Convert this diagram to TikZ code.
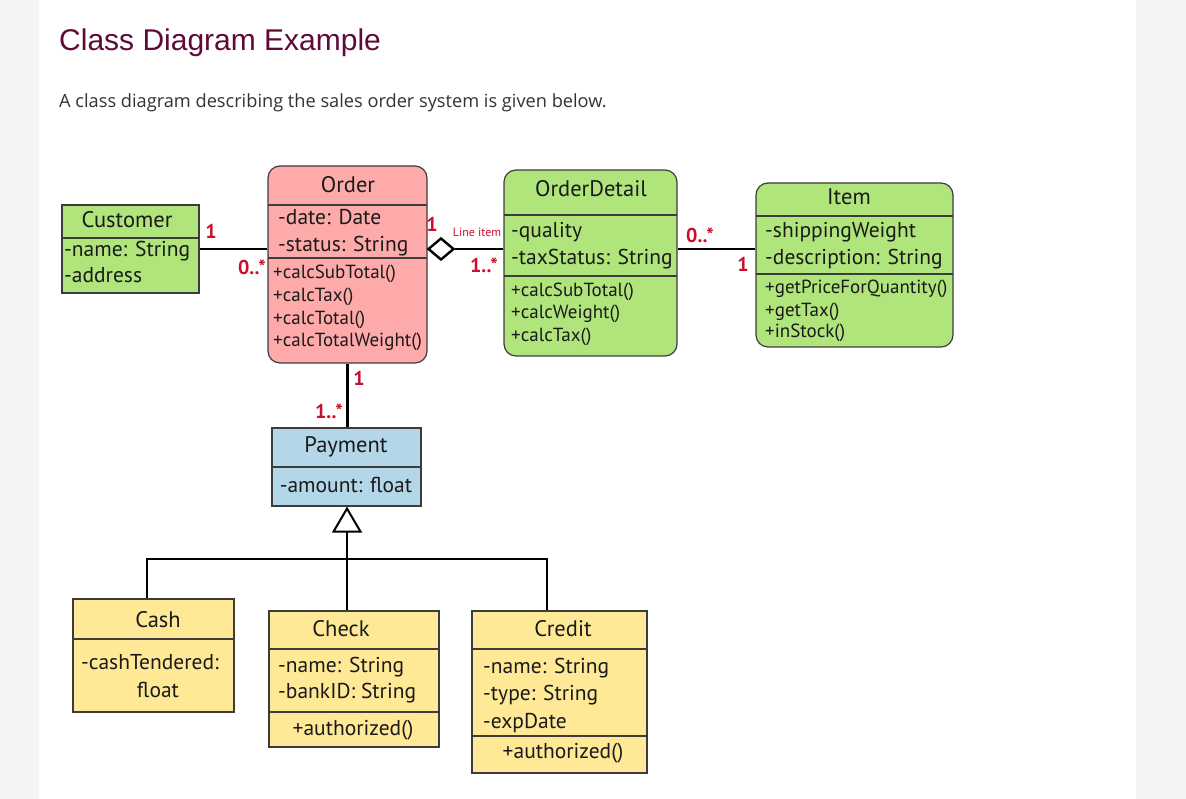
\documentclass[tikz,border=0pt]{standalone}
\usepackage{fontspec}
\usepackage{xcolor}
\usetikzlibrary{positioning, calc, shapes.geometric, arrows.meta}
\setmainfont{PT Sans}
\newfontfamily\headfont{Liberation Sans}
\newfontfamily\leadfont{Open Sans}
\definecolor{pagegray}{HTML}{F4F4F3}
\definecolor{headcol}{HTML}{5E0B3A}
\definecolor{leadcol}{HTML}{333333}
\definecolor{umlgreen}{HTML}{B0E57C}
\definecolor{umlpink}{HTML}{FFAAAA}
\definecolor{umlblue}{HTML}{B3D7E8}
\definecolor{umlyellow}{HTML}{FFE996}
\definecolor{boxline}{HTML}{3C3C3C}
\definecolor{multred}{HTML}{C8102E}
\definecolor{txt}{HTML}{1A1A1A}

\begin{document}
\begin{tikzpicture}[x=1pt, y=-1pt,
    cls/.style={draw=boxline, line width=1.2pt, inner sep=0pt},
    roundcls/.style={cls, rounded corners=12pt},
    sep/.style={draw=boxline, line width=1.2pt},
    link/.style={line width=2.4pt, black},
    ttl/.style={font=\fontsize{22.5}{26}\selectfont, anchor=base, inner sep=0pt, text=txt},
    attr/.style={font=\fontsize{21.5}{26}\selectfont, anchor=base west, inner sep=0pt, text=txt},
    body/.style={attr, anchor=base},
    meth/.style={font=\fontsize{19}{22}\selectfont, anchor=base west, inner sep=0pt, text=txt},
    mult/.style={font=\bfseries\fontsize{20}{24}\selectfont, text=multred, inner sep=0pt}]
    \useasboundingbox (0,0) rectangle (1186,799);
    \fill[pagegray] (0,0) rectangle (1186,799);
    \fill[white] (39,0) rectangle (1136,799);

    % page heading
    \node[anchor=base west, inner sep=0pt, text=headcol, font=\headfont\fontsize{30}{36}\selectfont] (head) at (59,51) {Class Diagram Example};
    \node[anchor=base west, inner sep=0pt, text=leadcol, font=\leadfont\fontsize{18.2}{22}\selectfont] (lead) at (59,108) {A class diagram describing the sales order system is given below.};

    % classes
    \node[cls, fill=umlgreen, minimum width=137pt, minimum height=88pt] (customer) at (130.5,249) {};
    \node[roundcls, fill=umlpink, minimum width=159pt, minimum height=197pt] (order) at (347.5,264.5) {};
    \node[roundcls, fill=umlgreen, minimum width=173pt, minimum height=186pt] (detail) at (590.5,263) {};
    \node[roundcls, fill=umlgreen, minimum width=197pt, minimum height=164pt] (item) at (854.5,265) {};
    \node[cls, fill=umlblue, minimum width=149pt, minimum height=78pt] (payment) at (346.5,467) {};
    \node[cls, fill=umlyellow, minimum width=161pt, minimum height=113pt] (cash) at (153.5,655.5) {};
    \node[cls, fill=umlyellow, minimum width=170pt, minimum height=136pt] (check) at (354,679) {};
    \node[cls, fill=umlyellow, minimum width=175pt, minimum height=162pt] (credit) at (559.5,692) {};

    % compartments
    \draw[sep] (62,238) -- (199,238);
    \draw[sep] (268,205) -- (427,205);
    \draw[sep] (268,258) -- (427,258);
    \draw[sep] (504,215) -- (677,215);
    \draw[sep] (504,276) -- (677,276);
    \draw[sep] (756,216) -- (953,216);
    \draw[sep] (756,274) -- (953,274);
    \draw[sep] (272,467) -- (421,467);
    \draw[sep] (73,639) -- (234,639);
    \draw[sep] (269,649) -- (439,649);
    \draw[sep] (269,712) -- (439,712);
    \draw[sep] (472,649) -- (647,649);
    \draw[sep] (472,736) -- (647,736);

    % Customer
    \node[ttl] (cu-t) at (127,228) {Customer};
    \node[attr] (cu-a1) at (64,257) {-name: String};
    \node[attr] (cu-a2) at (64,283) {-address};

    % Order
    \node[ttl] (or-t) at (348,193) {Order};
    \node[attr] (or-a1) at (278,225) {-date: Date};
    \node[attr] (or-a2) at (278,252) {-status: String};
    \node[meth] (or-m1) at (273,279) {+calcSubTotal()};
    \node[meth] (or-m2) at (273,302) {+calcTax()};
    \node[meth] (or-m3) at (273,325) {+calcTotal()};
    \node[meth] (or-m4) at (273,347) {+calcTotalWeight()};

    % OrderDetail
    \node[ttl] (od-t) at (591,197) {OrderDetail};
    \node[attr] (od-a1) at (511,238) {-quality};
    \node[attr] (od-a2) at (511,265) {-taxStatus: String};
    \node[meth] (od-m1) at (511,297) {+calcSubTotal()};
    \node[meth] (od-m2) at (511,319) {+calcWeight()};
    \node[meth] (od-m3) at (511,342) {+calcTax()};

    % Item
    \node[ttl] (it-t) at (849,205) {Item};
    \node[attr] (it-a1) at (765,238) {-shippingWeight};
    \node[attr] (it-a2) at (765,265) {-description: String};
    \node[meth] (it-m1) at (765,294) {+getPriceForQuantity()};
    \node[meth] (it-m2) at (765,317) {+getTax()};
    \node[meth] (it-m3) at (765,338) {+inStock()};

    % Payment
    \node[ttl] (pa-t) at (346,452) {Payment};
    \node[body] (pa-a1) at (346,492) {-amount: float};

    % Cash
    \node[ttl] (ca-t) at (158,627) {Cash};
    \node[body] (ca-a1) at (150,669) {-cashTendered:};
    \node[body] (ca-a2) at (158,697) {float};

    % Check
    \node[ttl] (ch-t) at (341,636) {Check};
    \node[attr] (ch-a1) at (278,672) {-name: String};
    \node[attr] (ch-a2) at (278,698) {-bankID: String};
    \node[body] (ch-m1) at (353,735) {+authorized()};

    % Credit
    \node[ttl] (cr-t) at (563,636) {Credit};
    \node[attr] (cr-a1) at (483,673) {-name: String};
    \node[attr] (cr-a2) at (483,700) {-type: String};
    \node[attr] (cr-a3) at (483,728) {-expDate};
    \node[body] (cr-m1) at (563,758) {+authorized()};

    % associations
    \node[diamond, draw=black, line width=2.4pt, fill=white, inner sep=0pt, minimum width=26pt, minimum height=22pt] (agg) at (441,249) {};
    \draw[link] (customer.east) -- (customer.east -| order.west);
    \draw[link] (agg.east) -- (agg.east -| detail.west);
    \draw[link] (agg.east -| detail.east) -- (agg.east -| item.west);
    \draw[link] (order.south) -- (order.south |- payment.north);

    % generalisation
    \coordinate (bar) at (347,559);
    \draw[link, -{Triangle[open, length=26pt, width=30pt, line width=2pt]}] (bar) -- (bar |- payment.south);
    \draw[link] ([xshift=-6.5pt]cash.north) |- ([xshift=-12.5pt]credit.north |- bar) -- ([xshift=-12.5pt]credit.north);
    \draw[link] (bar) -- ([xshift=-7pt]check.north);

    % multiplicities
    \node[mult, anchor=base] (mu1) at (211,239) {1};
    \node[mult, anchor=base east] (mu2) at (266,275) {0..*};
    \node[mult, anchor=base] (mu3) at (432,232) {1};
    \node[anchor=base, inner sep=0pt, text=multred, font=\fontsize{12}{14}\selectfont] (line) at (477,237) {Line item};
    \node[mult, anchor=base east] (mu4) at (498,273) {1..*};
    \node[mult, anchor=base west] (mu5) at (686,243) {0..*};
    \node[mult, anchor=base] (mu6) at (743,272) {1};
    \node[mult, anchor=base] (mu7) at (359,385) {1};
    \node[mult, anchor=base east] (mu8) at (343,418) {1..*};
\end{tikzpicture}
\end{document}
